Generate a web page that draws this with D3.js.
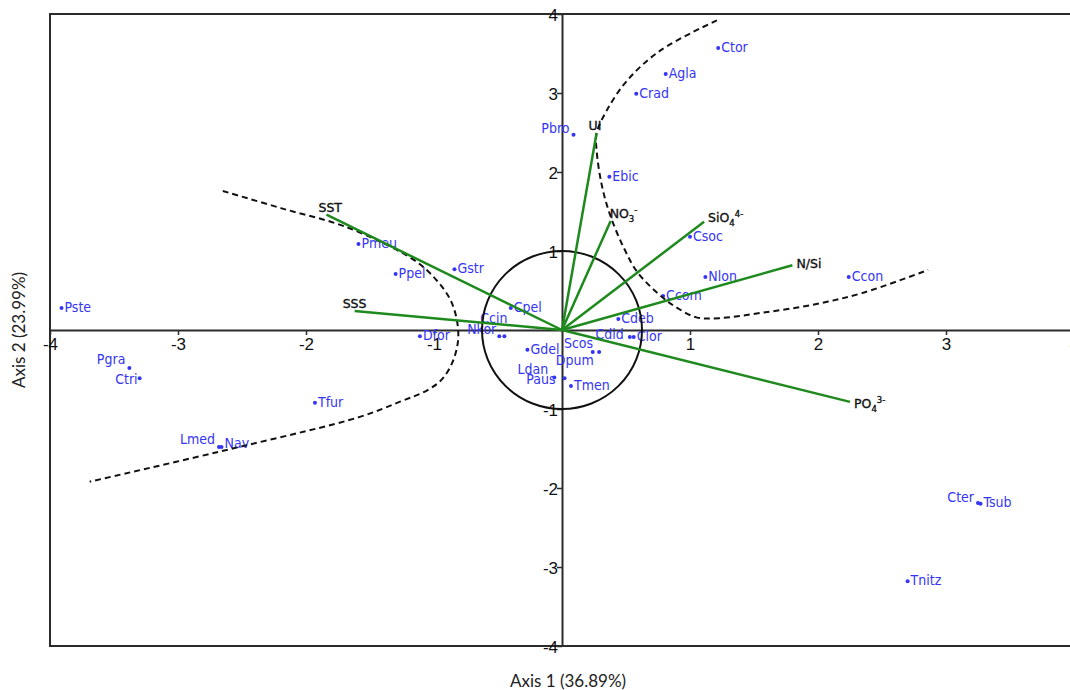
<!DOCTYPE html>
<html>
<head>
<meta charset="utf-8">
<script src="https://cdn.jsdelivr.net/npm/d3@7"></script>
<style>
  html, body { margin: 0; padding: 0; background: #fff; overflow: hidden; }
  svg { display: block; }
</style>
</head>
<body>
<svg id="chart" width="1070" height="690"></svg>
<script>
// ---------- DATA ----------
const speciesNames = ["Ctor","Agla","Crad","Pbro","Ebic","Csoc","Nlon","Ccom","Ccon","Cdeb","Clor","Cdid","Scos","Dpum","Tmen","Paus","Ldan","Gdel","Ccin","Nkor","Cpel","Gstr","Ppel","Pmeu","Dfor","Pste","Pgra","Ctri","Tfur","Lmed","Nav","Cter","Tsub","Tnitz"];
const speciesAxis1 = [1.22,0.81,0.58,0.09,0.37,1.00,1.12,0.79,2.24,0.44,0.56,0.53,0.29,0.24,0.07,0.02,-0.06,-0.27,-0.45,-0.49,-0.40,-0.84,-1.30,-1.59,-1.11,-3.91,-3.38,-3.30,-1.93,-2.68,-2.66,3.25,3.27,2.70];
const speciesAxis2 = [3.57,3.24,2.99,2.47,1.94,1.18,0.67,0.43,0.67,0.14,-0.09,-0.09,-0.28,-0.28,-0.71,-0.61,-0.60,-0.25,-0.08,-0.08,0.28,0.77,0.71,1.09,-0.08,0.28,-0.48,-0.61,-0.92,-1.48,-1.48,-2.19,-2.20,-3.18];

const variableNames = ["UI","NO3","SiO4","N/Si","PO4","SST","SSS"];
const variableAxis1 = [0.27,0.38,1.11,1.80,2.25,-1.84,-1.62];
const variableAxis2 = [2.49,1.38,1.37,0.82,-0.91,1.46,0.24];

// dashed group boundaries
const boundaryLeft = [[-2.65,1.76],[-2.19,1.54],[-1.68,1.30],[-1.16,0.89],[-0.98,0.63],[-0.86,0.34],[-0.81,-0.04],[-0.84,-0.34],[-0.93,-0.61],[-1.05,-0.76],[-1.27,-0.91],[-1.58,-1.10],[-2.52,-1.48],[-3.69,-1.92]];
const boundaryRight = [[1.21,3.92],[0.77,3.54],[0.51,3.16],[0.35,2.78],[0.27,2.49],[0.27,2.28],[0.31,1.84],[0.375,1.46],[0.48,1.05],[0.59,0.73],[0.78,0.42],[0.90,0.28],[1.05,0.16],[1.23,0.15],[1.57,0.22],[1.96,0.32],[2.35,0.47],[2.86,0.76]];

const xTicks = [-4,-3,-2,-1,1,2,3,4];
const yTicks = [4,3,2,1,-1,-2,-3,-4];
const xTitle = "Axis 1 (36.89%)";
const yTitle = "Axis 2 (23.99%)";

// ---------- LABEL PLACEMENT (pixels, styling only) ----------
const defaultLab = [3, 4, "start"];
const labelPlace = {
  Pbro: [-4,-2,"end"], Cdid: [-6,2,"end"], Scos: [-6,-4,"end"], Dpum: [1,13,"end"],
  Paus: [-9,6,"end"], Ldan: [-6,-3,"end"], Ccin: [3,-13,"end"], Nkor: [-3,-2,"end"],
  Pgra: [-4,-4,"end"], Ctri: [-2,6,"end"], Lmed: [-4,-3,"end"], Nav: [3,1,"start"],
  Cter: [-4,-1,"end"], Tsub: [3,3,"start"]
};
const varLabelPlace = {
  "UI": [-8,-3], "NO3": [-1,-3], "SiO4": [4,0], "N/Si": [4,3], "PO4": [4,6], "SST": [-8,-3], "SSS": [-12,-3]
};
const varLabelParts = {
  "UI": [["UI",""]], "NO3": [["NO",""],["3","sub"],["-","sup"]], "SiO4": [["SiO",""],["4","sub"],["4-","sup"]],
  "N/Si": [["N/Si",""]], "PO4": [["PO",""],["4","sub"],["3-","sup"]], "SST": [["SST",""]], "SSS": [["SSS",""]]
};

// ---------- DRAW ----------
const svg = d3.select("#chart");
const x = d3.scaleLinear().domain([-4, 4]).range([50, 1074]);
const y = d3.scaleLinear().domain([-4, 4]).range([646, 14]);
const axisColor = "#2b2b2b";
const green = "#1e8a1e";
const blue = "#3535f5";
const fmt = d => String(d);

// frame
svg.append("rect")
  .attr("x", x(-4)).attr("y", y(4))
  .attr("width", x(4) - x(-4)).attr("height", y(-4) - y(4))
  .attr("fill", "none").attr("stroke", axisColor).attr("stroke-width", 2);

// centre axes via d3 axes
const xAxis = d3.axisBottom(x).tickValues(xTicks).tickSize(5).tickSizeOuter(0).tickFormat(fmt);
const gx = svg.append("g").attr("transform", `translate(0,${y(0)})`).call(xAxis);
gx.select(".domain").attr("stroke", axisColor).attr("stroke-width", 2);
gx.selectAll(".tick line").attr("stroke", axisColor).attr("stroke-width", 1.5);
gx.selectAll(".tick text").attr("font-family", "'Liberation Sans', Arial, sans-serif")
  .attr("font-size", 17).attr("fill", "#111").attr("y", 8).attr("dy", "0.71em");

const yAxis = d3.axisLeft(y).tickValues(yTicks).tickSize(5).tickSizeOuter(0).tickFormat(fmt);
const gy = svg.append("g").attr("transform", `translate(${x(0)},0)`).call(yAxis);
gy.select(".domain").attr("stroke", axisColor).attr("stroke-width", 2);
gy.selectAll(".tick line").attr("stroke", axisColor).attr("stroke-width", 1.5);
gy.selectAll(".tick text").attr("font-family", "'Liberation Sans', Arial, sans-serif")
  .attr("font-size", 17).attr("fill", "#111").attr("x", -4).attr("dy", "0.36em");

// titles
svg.append("text").attr("x", 568).attr("y", 687).attr("text-anchor", "middle")
  .attr("font-family", "Lato, sans-serif").attr("font-size", 17).attr("fill", "#222").text(xTitle);
svg.append("text").attr("transform", `translate(25,330) rotate(-90)`).attr("text-anchor", "middle")
  .attr("font-family", "Lato, sans-serif").attr("font-size", 17).attr("fill", "#222").text(yTitle);

// species points
const species = speciesNames.map((n, i) => ({ name: n, a1: speciesAxis1[i], a2: speciesAxis2[i] }));
const gp = svg.append("g");
gp.selectAll("circle").data(species).join("circle")
  .attr("cx", d => x(d.a1)).attr("cy", d => y(d.a2)).attr("r", 2).attr("fill", blue);
gp.selectAll("text").data(species).join("text")
  .attr("x", d => x(d.a1) + (labelPlace[d.name] || defaultLab)[0])
  .attr("y", d => y(d.a2) + (labelPlace[d.name] || defaultLab)[1])
  .attr("text-anchor", d => (labelPlace[d.name] || defaultLab)[2])
  .attr("font-family", "'DejaVu Sans Condensed', 'DejaVu Sans', sans-serif")
  .attr("font-size", 14).attr("fill", blue)
  .text(d => d.name);

// correlation circle (radius = one unit of axis 2)
svg.append("ellipse").attr("cx", x(0)).attr("cy", y(0))
  .attr("rx", y(0) - y(1) + 1).attr("ry", y(0) - y(1))
  .attr("fill", "none").attr("stroke", "#111").attr("stroke-width", 2);

// dashed boundaries
const line = d3.line().x(d => x(d[0])).y(d => y(d[1])).curve(d3.curveCatmullRom.alpha(0.5));
[boundaryLeft, boundaryRight].forEach(b => {
  svg.append("path").attr("d", line(b)).attr("fill", "none").attr("stroke", "#111")
    .attr("stroke-width", 2).attr("stroke-dasharray", "6,4");
});

// environmental vectors
const vars = variableNames.map((n, i) => ({ name: n, a1: variableAxis1[i], a2: variableAxis2[i] }));
svg.append("g").selectAll("line").data(vars).join("line")
  .attr("x1", x(0)).attr("y1", y(0))
  .attr("x2", d => x(d.a1)).attr("y2", d => y(d.a2))
  .attr("stroke", green).attr("stroke-width", 2.5);

const vt = svg.append("g").selectAll("text").data(vars).join("text")
  .attr("x", d => x(d.a1) + varLabelPlace[d.name][0])
  .attr("y", d => y(d.a2) + varLabelPlace[d.name][1])
  .attr("font-family", "'DejaVu Sans', sans-serif")
  .attr("font-size", 12.5).attr("fill", "#111")
  .attr("stroke", "#111").attr("stroke-width", 0.35);
vt.each(function(d) {
  const t = d3.select(this);
  let shift = 0;
  varLabelParts[d.name].forEach(([s, kind]) => {
    const target = kind === "sub" ? 4 : kind === "sup" ? -5 : 0;
    const ts = t.append("tspan").text(s).attr("dy", target - shift);
    if (kind) ts.attr("font-size", 8.5);
    shift = target;
  });
});
</script>
</body>
</html>
